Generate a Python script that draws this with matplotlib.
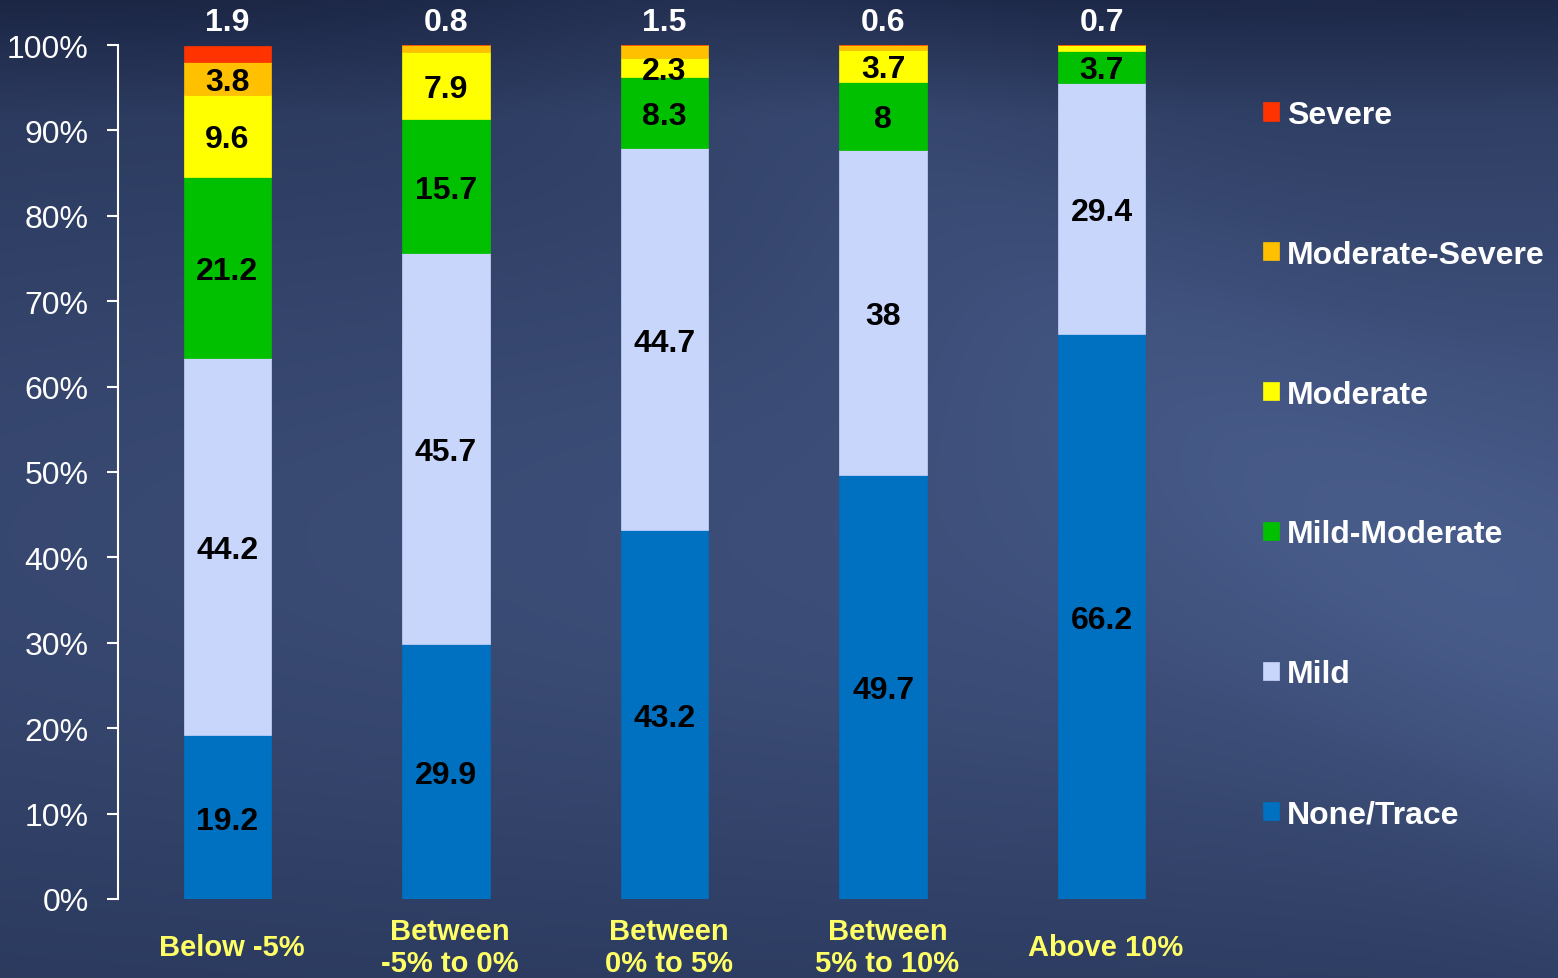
import matplotlib
matplotlib.use("Agg")
import matplotlib.pyplot as plt
from matplotlib.transforms import blended_transform_factory
import numpy as np

plt.rcParams['font.family'] = ['Liberation Sans', 'DejaVu Sans']

# Percent of patients in each severity grade, per change group
groups = ["Below -5%", "Between\n-5% to 0%", "Between\n0% to 5%", "Between\n5% to 10%", "Above 10%"]
grades = ["None/Trace", "Mild", "Mild-Moderate", "Moderate", "Moderate-Severe", "Severe"]
none_trace = [19.2, 29.9, 43.2, 49.7, 66.2]
mild = [44.2, 45.7, 44.7, 38.0, 29.4]
mild_moderate = [21.2, 15.7, 8.3, 8.0, 3.7]
moderate = [9.6, 7.9, 2.3, 3.7, 0.7]
moderate_severe = [3.8, 0.8, 1.5, 0.6, 0.0]
severe = [1.9, 0.0, 0.0, 0.0, 0.0]
colors = ["#0070c0", "#c8d6fc", "#00c000", "#ffff00", "#ffc000", "#ff3300"]

series = [none_trace, mild, mild_moderate, moderate, moderate_severe, severe]

fig = plt.figure(figsize=(15.58, 9.79), dpi=100)

# backdrop: dark navy gradient with a soft lighter diagonal band
bg = fig.add_axes([0, 0, 1, 1], zorder=0)
h, w = 979, 1558
yy, xx = np.mgrid[0:h, 0:w]
yn, xn = yy / h, xx / w
dark = np.array([0x1c, 0x27, 0x46]) / 255
light = np.array([0x4d, 0x62, 0x92]) / 255
t = 0.22 + 0.55 * np.exp(-((yn - 0.55) / 0.42) ** 2) * (0.6 + 0.4 * xn)
band = np.exp(-((yn * 0.8 - (xn - 0.45)) / 0.18) ** 2) * 0.15
t = np.clip(t + band - 0.3 * np.clip(0.12 - yn, 0, None) / 0.12, 0, 1)
img = dark[None, None, :] * (1 - t[..., None]) + light[None, None, :] * t[..., None]
bg.imshow(img, aspect='auto', extent=[0, 1, 0, 1])
bg.axis('off')

ax = fig.add_axes([118 / 1558, 1 - 900 / 979, (1211 - 118) / 1558, 854 / 979], zorder=1)
ax.patch.set_alpha(0)

x = np.arange(len(groups))
bottom = np.zeros(len(groups))
containers = []
for vals, c, name in zip(series, colors, grades):
    vals = np.array(vals)
    bars = ax.bar(x, vals, width=0.4, bottom=bottom, color=c, label=name,
                  edgecolor=c, linewidth=0.5)
    containers.append(bars)
    bottom = bottom + vals

# value labels: black inside segments, white above the bar for the topmost one
for i in range(len(groups)):
    vals = [s[i] for s in series]
    top_idx = max(k for k, v in enumerate(vals) if v > 0)
    base = 0.0
    for k, v in enumerate(vals):
        if v <= 0:
            continue
        txt = f"{v:g}"
        if k == top_idx:
            ax.text(x[i], 102.7, txt, ha='center', va='center', color='white',
                    fontsize=23, fontweight='bold', clip_on=False)
        else:
            ax.text(x[i], base + v / 2, txt, ha='center', va='center_baseline',
                    color='black', fontsize=23, fontweight='bold')
        base += v

ax.set_xlim(-0.5, 4.5)
ax.set_ylim(0, 100)
ax.set_yticks(np.arange(0, 101, 10))
ax.set_yticklabels([f"{v}%" for v in range(0, 101, 10)], fontsize=23, color='white')
ax.tick_params(axis='y', direction='out', length=8, width=1.5, color='white', pad=13)
ax.set_xticks([])
for side in ['top', 'right', 'bottom']:
    ax.spines[side].set_visible(False)
ax.spines['left'].set_color('white')
ax.spines['left'].set_linewidth(1.5)

trans = blended_transform_factory(ax.transData, ax.transAxes)
for i, g in enumerate(groups):
    ax.annotate(g, xy=(x[i] + 0.02, 0), xycoords=trans, xytext=(0, -48),
                textcoords='offset pixels', ha='center', va='center',
                color='#ffff66', fontsize=21, fontweight='bold', linespacing=1.2,
                annotation_clip=False)

leg = ax.legend(handles=containers[::-1], loc='upper left',
                bbox_to_anchor=(1250 / 1558, 1 - 88 / 979), bbox_transform=fig.transFigure,
                frameon=False, fontsize=23, labelspacing=3.44, handlelength=0.5,
                handleheight=0.5, handletextpad=0.25, borderaxespad=0)
for t_ in leg.get_texts():
    t_.set_color('white')
    t_.set_fontweight('bold')

fig.savefig("out.png", dpi=100)
